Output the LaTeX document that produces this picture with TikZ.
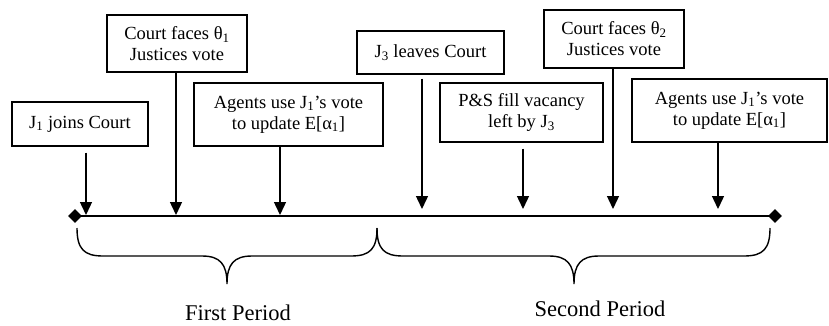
\documentclass[tikz,border=0pt]{standalone}
\usepackage{fontspec}
\setmainfont{Liberation Serif}
\usetikzlibrary{arrows.meta,shapes.geometric}
\begin{document}
\begin{tikzpicture}
[x=1pt,y=-1pt,
  eventbox/.style={shape=rectangle,draw,line width=1.3pt,align=center,inner sep=2pt,
    font=\fontsize{18.5}{21}\selectfont},%
  enddecorate/.style={shape=diamond,fill=black,inner sep=0pt,minimum size=14pt},%
  linedecorate/.style={-,line width=1.8pt},%
  arrowdecorate/.style={-{Triangle[length=13pt,width=12pt]},line width=1.4pt},%
  bracedecorate/.style={-,line width=1.4pt},%
  perioddecorate/.style={anchor=base,font=\fontsize{22.5}{26}\selectfont}]
\useasboundingbox (0,0) rectangle (829,325);
%% boxes
\foreach \nodename/\x/\y/\w/\h/\txt in {
  join/80/124/136/44/{J\textsubscript{1} joins Court},
  faceone/177/43.5/140/57/{Court faces θ\textsubscript{1}\\Justices vote},
  updateone/288.5/114.5/189/63/{Agents use J\textsubscript{1}’s vote\\to update E[α\textsubscript{1}]},
  leave/430.5/52.5/147/43/{J\textsubscript{3} leaves Court},
  fill/521.5/112.5/163/59/{P\&S fill vacancy\\left by J\textsubscript{3}},
  facetwo/614/39/140/58/{Court faces θ\textsubscript{2}\\Justices vote},
  updatetwo/729.5/110.5/195/63/{Agents use J\textsubscript{1}’s vote\\to update E[α\textsubscript{1}]}} {
  \node (\nodename) at (\x,\y) [eventbox,minimum width=\w pt,minimum height=\h pt] {\txt};
}
%% time line
\node (start) at (75,216) [enddecorate] {};
\node (end) at (775,216) [enddecorate] {};
\draw[linedecorate] (start.center) -- (end.center);
%% arrows
\foreach \nodename/\x/\ytip/\gap in {join/86/215/6, faceone/176/215/0,
  updateone/280/215/0, leave/422/209/4, fill/523/209/6, facetwo/613/209/0,
  updatetwo/718/209/0} {
  \coordinate (t\nodename) at (\x,\ytip);
  \draw[arrowdecorate] ([yshift=-\gap pt]\nodename.south -| t\nodename) -- (t\nodename);
}
%% braces
\foreach \xa/\xm/\xb in {77/227/377, 377/574/770} {
  \draw[bracedecorate] (\xa,228) .. controls (\xa,249) and (\xa+7,256) .. (\xa+26,256)
    -- (\xm-25,256) .. controls (\xm-7,256) and (\xm,264) .. (\xm,284)
    .. controls (\xm,264) and (\xm+7,256) .. (\xm+25,256)
    -- (\xb-26,256) .. controls (\xb-7,256) and (\xb,249) .. (\xb,228);
}
\node (first) at (238,320) [perioddecorate] {First Period};
\node (second) at (600,316) [perioddecorate] {Second Period};
\end{tikzpicture}
\end{document}
